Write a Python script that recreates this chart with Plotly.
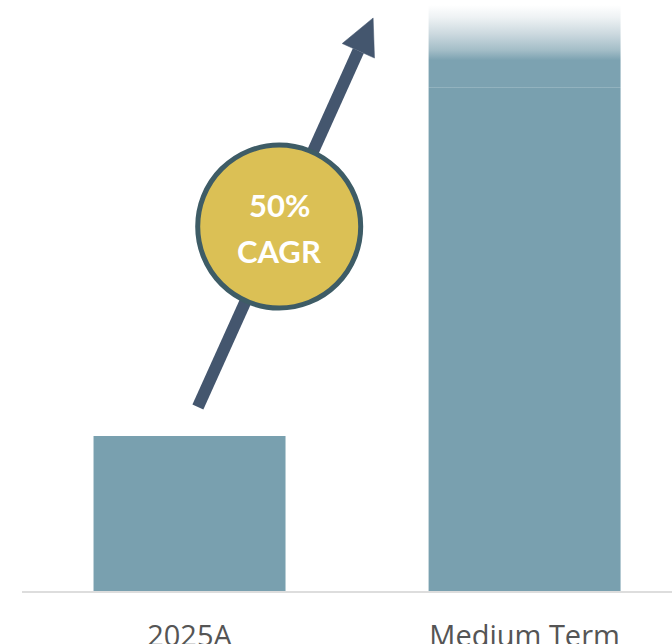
import math
import plotly.graph_objects as go

# ---------------- data ----------------
categories = ["2025A", "Medium Term"]
values = [1.0, 3.25]
cagr_lines = ["50%", "CAGR"]

# ---------------- style / layout ----------------
W, H = 672, 644
ML, MR, MT, MB = 22, 0, 0, 53
XR = [-0.5, 1.44]
YR = [0, 3.813]
BAR_W = 0.573
BAR_COLOR = "#79A0AF"
ARROW_COLOR = "#44566E"
CIRCLE_FILL = "#DBC055"
CIRCLE_LINE = "#3E5C66"
FADE_TOP = 3.78          # top of the faded extension above the last bar

plot_w = W - ML - MR
plot_h = H - MT - MB
sx = plot_w / (XR[1] - XR[0])   # px per x unit
sy = plot_h / (YR[1] - YR[0])   # px per y unit

xs = list(range(len(categories)))

# arrow (in data coordinates, anchored near the bars)
tail = (xs[0] + 0.025, values[0] * 1.187)
tip = (xs[0] + 0.548, 3.697)
SHAFT_PX = 12
HEAD_LEN_PX = 36
HEAD_HALF_PX = 17.7
CIRCLE_T = 0.464
CIRCLE_D_PX = 163

# direction in pixel space
dxp = (tip[0] - tail[0]) * sx
dyp = (tip[1] - tail[1]) * sy
Lp = math.hypot(dxp, dyp)
ux, uy = dxp / Lp, dyp / Lp
nx, ny = -uy, ux
base_px = (tip[0] * sx - ux * HEAD_LEN_PX, tip[1] * sy - uy * HEAD_LEN_PX)
head_base = (base_px[0] / sx, base_px[1] / sy)
c1 = ((base_px[0] + nx * HEAD_HALF_PX) / sx, (base_px[1] + ny * HEAD_HALF_PX) / sy)
c2 = ((base_px[0] - nx * HEAD_HALF_PX) / sx, (base_px[1] - ny * HEAD_HALF_PX) / sy)

circle_c = (tail[0] + CIRCLE_T * (tip[0] - tail[0]), tail[1] + CIRCLE_T * (tip[1] - tail[1]))

fig = go.Figure()

fig.add_trace(go.Bar(
    x=xs, y=values, width=BAR_W,
    marker=dict(color=BAR_COLOR, line=dict(width=0)),
    hoverinfo="skip", showlegend=False,
))

# faded extension on top of last bar
xl = xs[-1] - BAR_W / 2
xr = xs[-1] + BAR_W / 2
fig.add_trace(go.Scatter(
    x=[xl, xr, xr, xl, xl],
    y=[values[-1], values[-1], FADE_TOP, FADE_TOP, values[-1]],
    mode="none", fill="toself",
    fillgradient=dict(
        type="vertical",
        start=values[-1], stop=FADE_TOP,
        colorscale=[[0, "#7CA2B1"], [0.33, "#7CA2B1"], [0.45, "#A3BDC7"],
                    [0.65, "#CCD9DF"], [0.85, "#EEF2F4"], [1, "#FFFFFF"]],
    ),
    hoverinfo="skip", showlegend=False,
))

# arrow shaft
fig.add_trace(go.Scatter(
    x=[tail[0], head_base[0]], y=[tail[1], head_base[1]],
    mode="lines", line=dict(color=ARROW_COLOR, width=SHAFT_PX),
    hoverinfo="skip", showlegend=False,
))
# arrow head
fig.add_trace(go.Scatter(
    x=[tip[0], c1[0], c2[0], tip[0]], y=[tip[1], c1[1], c2[1], tip[1]],
    mode="lines", fill="toself", fillcolor=ARROW_COLOR,
    line=dict(color=ARROW_COLOR, width=0.5),
    hoverinfo="skip", showlegend=False,
))
# CAGR circle
fig.add_trace(go.Scatter(
    x=[circle_c[0]], y=[circle_c[1]], mode="markers",
    marker=dict(size=CIRCLE_D_PX, color=CIRCLE_FILL,
                line=dict(color=CIRCLE_LINE, width=5)),
    hoverinfo="skip", showlegend=False,
))

for txt, shift in zip(cagr_lines, [22, -24.5]):
    fig.add_annotation(
        x=circle_c[0], y=circle_c[1], text=f"<b>{txt}</b>", showarrow=False,
        yshift=shift, font=dict(family="Lato", size=31, color="white"),
    )

fig.update_layout(
    width=W, height=H,
    margin=dict(l=ML, r=MR, t=MT, b=MB, pad=0, autoexpand=False),
    paper_bgcolor="white", plot_bgcolor="white",
    showlegend=False,
    xaxis=dict(
        range=XR, tickmode="array", tickvals=xs, ticktext=categories,
        showgrid=False, zeroline=False, showline=True,
        linecolor="#DDDDDD", linewidth=2, ticks="",
        tickfont=dict(family="Open Sans", size=29, color="#555555"),
        ticklabelstandoff=18, automargin=False, fixedrange=True,
    ),
    yaxis=dict(range=YR, visible=False, showgrid=False, zeroline=False,
               automargin=False, fixedrange=True),
)

fig.write_html(
    "out.html",
    config={"displayModeBar": False, "staticPlot": True},
    post_script="document.body.style.margin='0';document.body.style.overflow='hidden';",
)
